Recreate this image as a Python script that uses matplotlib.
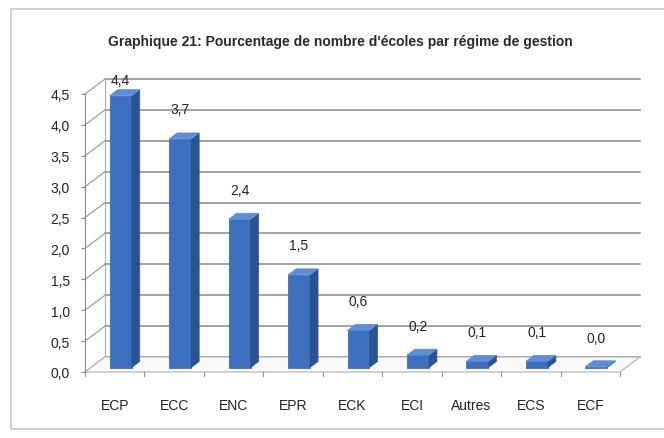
import numpy as np
import matplotlib.pyplot as plt
from matplotlib.patches import Polygon, Rectangle

categories = ["ECP", "ECC", "ENC", "EPR", "ECK", "ECI", "Autres", "ECS", "ECF"]
values = [4.4, 3.7, 2.4, 1.5, 0.6, 0.2, 0.1, 0.1, 0.0]
y_ticks = [0.0, 0.5, 1.0, 1.5, 2.0, 2.5, 3.0, 3.5, 4.0, 4.5]
title = "Graphique 21: Pourcentage de nombre d'écoles par régime de gestion"

W, H = 664, 439
fig = plt.figure(figsize=(W / 100, H / 100), dpi=100)
fig.patch.set_facecolor("white")

# pixel geometry of the plot (front plane)
x0_px, y0_px = 85, 373          # front-left corner (value 0)
px_cat = (620 - 85) / 9         # pixels per category
px_val = (373 - 95) / 4.5       # pixels per unit
xlim = (-0.1, 9.6)
ylim = (-0.15, 4.9)
left = x0_px + xlim[0] * px_cat
bottom = (H - y0_px) + ylim[0] * px_val
ax = fig.add_axes([left / W, bottom / H,
                   (xlim[1] - xlim[0]) * px_cat / W,
                   (ylim[1] - ylim[0]) * px_val / H])
ax.set_xlim(xlim)
ax.set_ylim(ylim)
ax.set_facecolor("none")

# depth of the 3D box, in data units
DX = 20 / px_cat
DY = 15 / px_val
n = len(categories)
ymax = y_ticks[-1]

# outer chart frame
fig.patches.append(Rectangle((11 / W, 9 / H), (W + 5) / W, (H - 19) / H,
                             transform=fig.transFigure, fill=False,
                             edgecolor="#c8c8c8", linewidth=1.2))

fig.text(0.513, 1 - 42 / H, title, ha="center", va="center",
         fontsize=10, fontweight="bold", color="#2a2a2a", family="Liberation Sans")

grid_c = "#8a8a8a"
# back wall gridlines and left wall diagonals
for v in y_ticks:
    ax.plot([DX, n + DX], [v + DY, v + DY], color=grid_c, lw=1.1, zorder=1)
    ax.plot([0, DX], [v, v + DY], color="#a0a0a0", lw=0.9, zorder=1)
ax.plot([DX, DX], [DY, ymax + DY], color="#b0b0b0", lw=0.8, zorder=1)

# floor
floor = Polygon([(0, 0), (n, 0), (n + DX, DY), (DX, DY)], closed=True,
                facecolor="#fafafa", edgecolor="#b8b8b8", lw=0.9, zorder=1)
ax.add_patch(floor)
for i in range(n + 1):
    ax.plot([i, i], [0, -0.07], color="#999999", lw=0.8, zorder=1)

# 3D bars
bw = 0.37
d0, d1 = 0.3, 0.7
c_front, c_side, c_top = "#3d70bf", "#2a5394", "#5a8ed8"
for i, v in enumerate(values):
    xl = i + 0.5 - bw / 2 + d0 * DX
    xr = xl + bw
    yb = d0 * DY
    ddx = (d1 - d0) * DX
    ddy = (d1 - d0) * DY
    h = max(v, 0.012)
    front = Polygon([(xl, yb), (xr, yb), (xr, yb + h), (xl, yb + h)],
                    facecolor=c_front, edgecolor="#2f5ea5", lw=0.5, zorder=3)
    side = Polygon([(xr, yb), (xr + ddx, yb + ddy), (xr + ddx, yb + ddy + h), (xr, yb + h)],
                   facecolor=c_side, edgecolor=c_side, lw=0.5, zorder=3)
    top = Polygon([(xl, yb + h), (xr, yb + h), (xr + ddx, yb + h + ddy), (xl + ddx, yb + h + ddy)],
                  facecolor=c_top, edgecolor=c_top, lw=0.5, zorder=3)
    for p in (front, side, top):
        ax.add_patch(p)
    ly = min(v + 0.55, 4.72)
    ax.text(i + 0.6, ly, f"{v:.1f}".replace(".", ","), ha="center", va="center",
            fontsize=10, color="#222222", family="Liberation Sans", zorder=5)

# axes: left value axis on the front plane, category labels below
for s in ("top", "right", "bottom"):
    ax.spines[s].set_visible(False)
ax.spines["left"].set_position(("data", 0))
ax.spines["left"].set_bounds(0, ymax)
ax.spines["left"].set_color("#8a8a8a")
ax.set_yticks(y_ticks)
ax.set_yticklabels([f"{t:.1f}".replace(".", ",") for t in y_ticks],
                   fontsize=10, family="Liberation Sans", color="#222222")
ax.tick_params(axis="y", length=3, color="#8a8a8a", pad=8)
ax.set_xticks(np.arange(n) + 0.5)
ax.set_xticklabels(categories, fontsize=10, family="Liberation Sans", color="#222222")
ax.tick_params(axis="x", length=0, pad=12)

fig.savefig("out.png", dpi=100, facecolor="white")
